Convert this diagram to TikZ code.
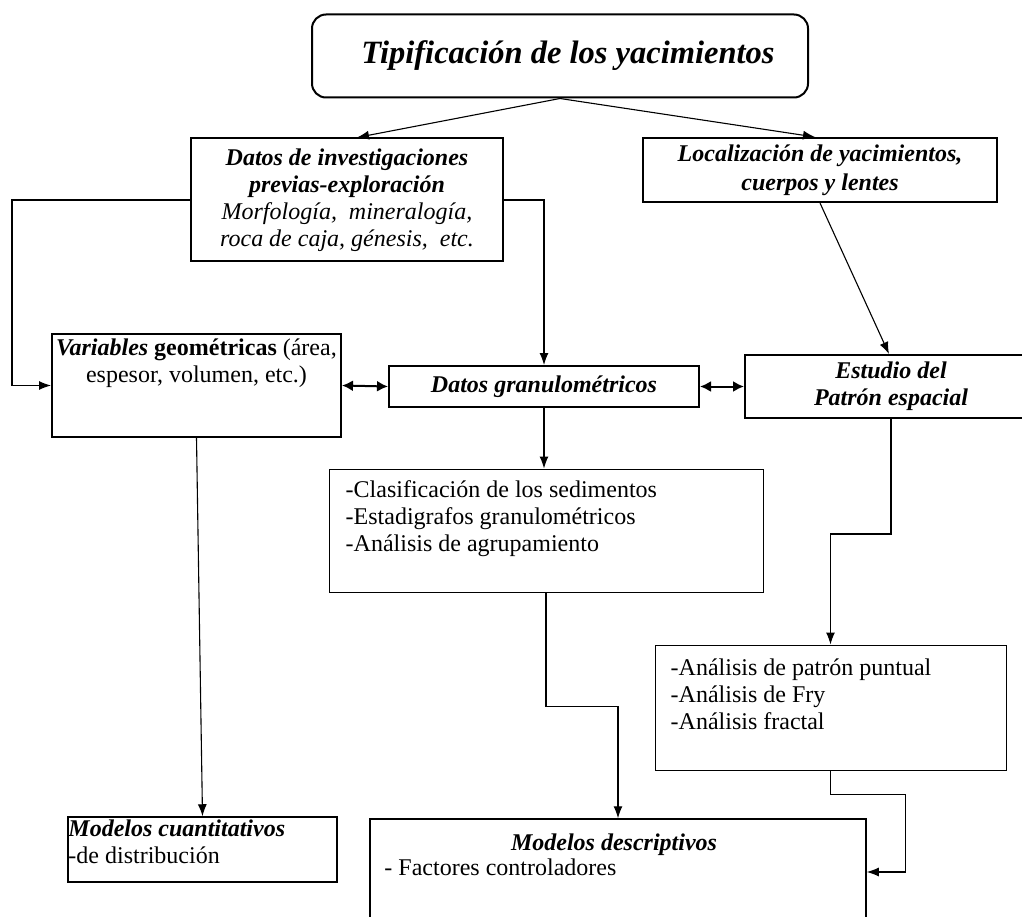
\documentclass[tikz,border=0pt]{standalone}
\usepackage{fontspec}
\setmainfont{Liberation Serif}
\usepackage{tikz}
\usetikzlibrary{positioning, arrows.meta, calc}

\begin{document}
\begin{tikzpicture}[
    x=1pt, y=-1pt,
    >={Latex[length=12pt,width=9pt]},
    every node/.style={font=\fontsize{24}{27}\selectfont},
    bi/.style={font=\fontsize{24}{27}\selectfont\bfseries\itshape},
    thickbox/.style={draw, line width=2pt, inner sep=0pt},
    thinbox/.style={draw, line width=1pt, inner sep=0pt},
    midbox/.style={draw, line width=1.5pt, inner sep=0pt},
    txt/.style={inner sep=0pt, align=left},
    link/.style={line width=1.1pt}
]
    \useasboundingbox (0,0) rectangle (1022,917);
    \clip (0,0) rectangle (1022,917);

    % Title
    \node[thickbox, rounded corners=14pt, minimum width=496pt, minimum height=83pt,
          font=\fontsize{32.5}{36}\selectfont\bfseries\itshape] (tip) at (560,56)
        {\hspace*{16pt}Tipificación de los yacimientos};

    % Second row
    \node[thickbox, minimum width=312pt, minimum height=123pt, align=center] (datos) at (347,200)
        {\textbf{\textit{Datos de investigaciones}}\\
         \textbf{\textit{previas-exploración}}\\
         \textit{Morfología,\ \ mineralogía,}\\
         \textit{roca de caja, génesis,\ \ etc.}};
    \node[thickbox, bi, minimum width=354pt, minimum height=64pt, align=center] (loc) at (820,170)
        {Localización de yacimientos,\\[2pt] cuerpos y lentes};

    % Third row
    \node[thickbox, minimum width=289pt, minimum height=103pt] (var) at (196.5,385.5) {};
    \node[txt, anchor=north, align=center] (vartxt) at ($(var.north)+(0,6)$)
        {\textbf{\textit{Variables} geométricas} (área,\\ espesor, volumen, etc.)};
    \node[thickbox, bi, minimum width=310pt, minimum height=41pt] (gran) at (544,386.5)
        {Datos granulométricos};
    \node[thickbox, bi, minimum width=292pt, minimum height=63pt, align=center] (est) at (891,386.5)
        {Estudio del\\ Patrón espacial};

    % Lists
    \node[thinbox, minimum width=434pt, minimum height=123pt] (clas) at (546,530.5) {};
    \node[txt, anchor=north west] (clastxt) at ($(clas.north west)+(17,12)$)
        {-Clasificación de los sedimentos\\ -Estadigrafos granulométricos\\ -Análisis de agrupamiento};
    \node[thinbox, minimum width=351pt, minimum height=125pt] (anal) at (830.5,707.5) {};
    \node[txt, anchor=north west] (analtxt) at ($(anal.north west)+(16,14)$)
        {-Análisis de patrón puntual\\ -Análisis de Fry\\ -Análisis fractal};

    % Models
    \node[midbox, minimum width=269pt, minimum height=65pt] (mcua) at (202.5,849.5) {};
    \node[txt, anchor=north west] (mcuatxt) at ($(mcua.north west)+(1,3)$)
        {\textbf{\textit{Modelos cuantitativos}}\\ -de distribución};
    \node[midbox, minimum width=496pt, minimum height=106pt] (mdes) at (618,872) {};
    \node[bi, inner sep=0pt, anchor=north] (mdestit) at ($(mdes.north)+(-4,15)$) {Modelos descriptivos};
    \node[txt, anchor=north west] (mdestxt) at ($(mdes.north west)+(15,40)$) {- Factores controladores};

    \path[->, link]
        (tip.south) edge ([xshift=10pt]datos.north)
        (tip.south) edge ([xshift=-5pt]loc.north)
        (loc.south) edge ([xshift=-2pt]est.north)
        (var.south) edge (mcua.north)
        (gran.south) edge (gran.south |- clas.north);
    \draw[->, link] (datos.west) -- ++(-178,0) |- (var.west);
    \draw[->, link] (datos.east) -| (gran.north);
    \draw[->, link] (clas.south) -- ++(0,114) -| (mdes.north);
    \draw[->, link] (est.south) -- ++(0,115) -| (anal.north);
    \draw[->, link] (anal.south) -- ++(0,24) -| ($(mdes.east)+(39,0)$) -- (mdes.east);
    \draw[<->, line width=2pt, >={Latex[length=11pt,width=11pt]}] (var.east) -- (gran.west);
    \draw[<->, line width=2pt, >={Latex[length=11pt,width=11pt]}] (gran.east) -- (est.west);
\end{tikzpicture}
\end{document}
